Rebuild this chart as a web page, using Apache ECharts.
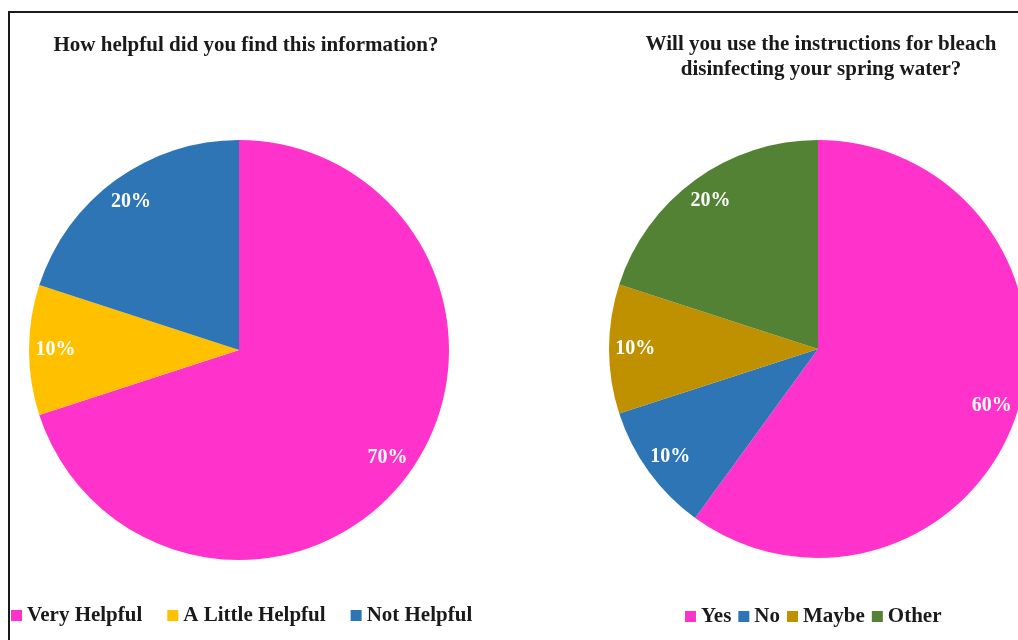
<!DOCTYPE html>
<html>
<head>
<meta charset="utf-8">
<script src="https://cdn.jsdelivr.net/npm/echarts@6/dist/echarts.min.js"></script>
<style>
  html, body { margin: 0; padding: 0; background: #fff; }
  #chart { width: 1018px; height: 640px; }
</style>
</head>
<body>
<div id="chart"></div>
<script>
// Survey answers, in percent
const helpfulCategories = ['Very Helpful', 'A Little Helpful', 'Not Helpful'];
const helpfulValues = [70, 10, 20];
const helpfulColors = ['#FF33CC', '#FFC000', '#2E75B6'];

const bleachCategories = ['Yes', 'No', 'Maybe', 'Other'];
const bleachValues = [60, 10, 10, 20];
const bleachColors = ['#FF33CC', '#2E75B6', '#BF9000', '#548235'];

const FONT = '"Liberation Serif", "Times New Roman", serif';

function toData(names, values, colors) {
  return names.map((n, i) => ({ name: n, value: values[i], itemStyle: { color: colors[i] } }));
}

function pieSeries(names, values, colors, center, r) {
  const data = toData(names, values, colors);
  return [
    {
      type: 'pie',
      center: center,
      radius: r,
      startAngle: 90,
      clockwise: true,
      silent: true,
      label: { show: false },
      labelLine: { show: false },
      itemStyle: { borderWidth: 0 },
      data: data
    },
    {
      // transparent ring that carries the percentage labels near the rim
      type: 'pie',
      center: center,
      radius: [r * 0.72, r],
      startAngle: 90,
      clockwise: true,
      silent: true,
      legendHoverLink: false,
      itemStyle: { color: 'rgba(0,0,0,0)', borderWidth: 0 },
      label: {
        show: true,
        position: 'inside',
        formatter: '{c}%',
        color: '#fff',
        fontFamily: FONT,
        fontWeight: 'bold',
        fontSize: 20
      },
      labelLine: { show: false },
      data: names.map((n, i) => ({ name: n, value: values[i] }))
    }
  ];
}

const chart = echarts.init(document.getElementById('chart'));
chart.setOption({
  animation: false,
  backgroundColor: '#fff',
  title: [
    {
      text: 'How helpful did you find this information?',
      left: 241, top: 30, textAlign: 'center',
      textStyle: { fontFamily: FONT, fontWeight: 'bold', fontSize: 21, color: '#1a1a1a' }
    },
    {
      text: 'Will you use the instructions for bleach\ndisinfecting your spring water?',
      left: 816, top: 27, textAlign: 'center',
      textStyle: { fontFamily: FONT, fontWeight: 'bold', fontSize: 21, color: '#1a1a1a', lineHeight: 25, align: 'center' }
    }
  ],
  legend: [
    {
      data: helpfulCategories,
      left: 6, top: 600,
      icon: 'rect', itemWidth: 11, itemHeight: 11, itemGap: 25,
      textStyle: { fontFamily: FONT, fontWeight: 'bold', fontSize: 21, color: '#1a1a1a' }
    },
    {
      data: bleachCategories,
      left: 680, top: 601,
      icon: 'rect', itemWidth: 11, itemHeight: 11, itemGap: 7,
      textStyle: { fontFamily: FONT, fontWeight: 'bold', fontSize: 21, color: '#1a1a1a' }
    }
  ],
  series: [
    ...pieSeries(helpfulCategories, helpfulValues, helpfulColors, [239, 350], 210),
    ...pieSeries(bleachCategories, bleachValues, bleachColors, [818, 349], 209)
  ],
  graphic: [
    {
      type: 'rect',
      shape: { x: 9, y: 12, width: 1040, height: 660 },
      style: { fill: 'none', stroke: '#1a1a1a', lineWidth: 2 },
      silent: true
    }
  ]
});
</script>
</body>
</html>
